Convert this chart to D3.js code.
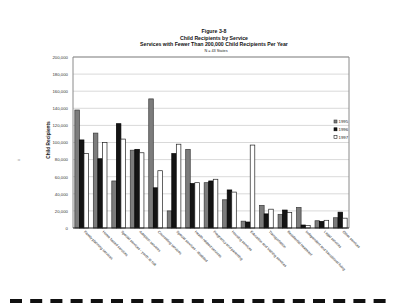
<!DOCTYPE html>
<html>
<head>
<meta charset="utf-8">
<script src="https://cdn.jsdelivr.net/npm/d3@7"></script>
<style>
    body { margin: 0; background: #fff; }
    svg { font-family: "Liberation Sans", Arial, sans-serif; }
</style>
</head>
<body>
<div id="chart"></div>
<script>
var categories = [
    'Family planning services', 'Home based services', 'Special services - youth at risk',
    'Adoption services', 'Counseling services', 'Special services - disabled',
    'Health related services', 'Pregnancy and parenting', 'Housing services',
    'Education and training services', 'Transportation', 'Residential treatment',
    'Independent and transitional living', 'Legal services', 'Other services'
];
var years = ['1995', '1996', '1997'];
var values1995 = [138000, 111000, 55000, 91000, 151000, 20000, 92000, 53000, 33000, 8000, 26500, 16000, 24000, 8500, 12000];
var values1996 = [103000, 81000, 122000, 92000, 47000, 87000, 52000, 55000, 44500, 7000, 16500, 21000, 3500, 7700, 18500];
var values1997 = [87000, 100000, 104000, 88000, 67000, 98000, 53000, 57000, 42000, 97000, 22000, 18000, 3000, 9000, 11500];
var yTicks = [0, 20000, 40000, 60000, 80000, 100000, 120000, 140000, 160000, 180000, 200000];
var titleLines = ['Figure 3-8', 'Child Recipients by Service', 'Services with Fewer Than 200,000 Child Recipients Per Year'];
var subTitle = 'N = 43 States';

var series = [values1995, values1996, values1997];
var fills = {'1995': '#7c7c7c', '1996': '#141414', '1997': '#ffffff'};
var strokes = {'1995': '#3a3a3a', '1996': '#000', '1997': '#222'};

var width = 400, height = 306;
var plot = {left: 73, right: 349, top: 57, bottom: 228};

var svg = d3.select('#chart').append('svg')
    .attr('width', width)
    .attr('height', height);

// titles
titleLines.forEach(function(t, i){
    svg.append('text')
        .attr('x', 214).attr('y', 33 + i * 6.6)
        .attr('text-anchor', 'middle')
        .attr('font-size', 5.2).attr('font-weight', 'bold')
        .attr('fill', '#111')
        .text(t);
});
svg.append('text')
    .attr('x', 216).attr('y', 52)
    .attr('text-anchor', 'middle')
    .attr('font-size', 3.8).attr('fill', '#222')
    .text(subTitle);

var y = d3.scaleLinear().domain([0, 200000]).range([plot.bottom, plot.top]);
var x0 = d3.scaleBand().domain(categories).range([plot.left, plot.right]).paddingInner(0.26).paddingOuter(0.1);
var x1 = d3.scaleBand().domain(years).range([0, x0.bandwidth()]);

// grid
svg.append('g').selectAll('line').data(yTicks.slice(1))
    .enter().append('line')
    .attr('x1', plot.left).attr('x2', plot.right)
    .attr('y1', function(d){return y(d)}).attr('y2', function(d){return y(d)})
    .attr('stroke', '#cfcfcf').attr('stroke-width', 0.8);

// frame
svg.append('path')
    .attr('d', 'M' + plot.left + ',' + plot.bottom + 'V' + plot.top + 'H' + plot.right + 'V' + plot.bottom)
    .attr('fill', 'none').attr('stroke', '#8a8a8a').attr('stroke-width', 1);

// y axis
var yAxis = d3.axisLeft(y).tickValues(yTicks).tickSize(0).tickPadding(5)
    .tickFormat(d3.format(','));
var ya = svg.append('g').attr('transform', 'translate(' + plot.left + ',0)').call(yAxis);
ya.select('.domain').remove();
ya.selectAll('text').attr('font-size', 4.3).attr('fill', '#333')
    .attr('font-family', '"Liberation Sans", Arial, sans-serif');

svg.append('text')
    .attr('transform', 'translate(50,140) rotate(-90)')
    .attr('text-anchor', 'middle')
    .attr('font-size', 4.8).attr('font-weight', 'bold').attr('fill', '#222')
    .text('Child Recipients');

svg.append('text')
    .attr('transform', 'translate(20,160) rotate(-90)')
    .attr('text-anchor', 'middle')
    .attr('font-size', 4).attr('fill', '#333')
    .text('ii');

// bars
var groups = svg.append('g').selectAll('g').data(categories)
    .enter().append('g')
    .attr('transform', function(d){return 'translate(' + x0(d) + ',0)'});

groups.selectAll('rect')
    .data(function(d, i){
        return years.map(function(yr, j){return {year: yr, value: series[j][i]}});
    })
    .enter().append('rect')
    .attr('x', function(d){return x1(d.year)})
    .attr('width', x1.bandwidth())
    .attr('y', function(d){return y(d.value)})
    .attr('height', function(d){return plot.bottom - y(d.value)})
    .attr('fill', function(d){return fills[d.year]})
    .attr('stroke', function(d){return strokes[d.year]})
    .attr('stroke-width', 0.7);

// x axis line
svg.append('line')
    .attr('x1', plot.left).attr('x2', plot.right)
    .attr('y1', plot.bottom).attr('y2', plot.bottom)
    .attr('stroke', '#222').attr('stroke-width', 1);

// category labels
svg.append('g').selectAll('text').data(categories)
    .enter().append('text')
    .attr('transform', function(d){
        return 'translate(' + (x0(d) + x0.bandwidth() / 2 + 2) + ',' + (plot.bottom + 4) + ') rotate(45)';
    })
    .attr('font-size', 3.6).attr('fill', '#222')
    .text(function(d){return d});

// legend
var legend = svg.append('g').selectAll('g').data(years)
    .enter().append('g')
    .attr('transform', function(d, i){return 'translate(334,' + (120 + i * 7.8) + ')'});
legend.append('rect')
    .attr('width', 3).attr('height', 3)
    .attr('fill', function(d){return fills[d]})
    .attr('stroke', function(d){return strokes[d]})
    .attr('stroke-width', 0.6);
legend.append('text')
    .attr('x', 4.5).attr('y', 3)
    .attr('font-size', 4.3).attr('fill', '#222')
    .text(function(d){return d});

// perforation strip at bottom of the page
svg.append('line')
    .attr('x1', 10).attr('x2', 392)
    .attr('y1', 301).attr('y2', 301)
    .attr('stroke', '#111').attr('stroke-width', 4)
    .attr('stroke-dasharray', '12,8.2');
</script>
</body>
</html>
